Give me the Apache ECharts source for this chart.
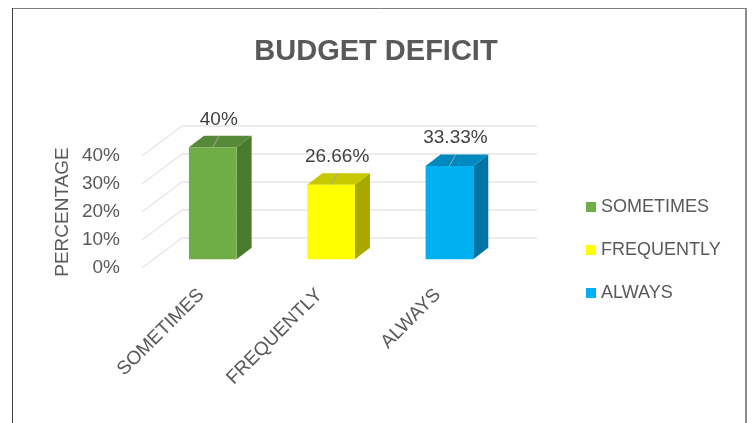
<!DOCTYPE html>
<html lang="en">
<head>
    <meta charset="utf-8">
    <script src="https://cdn.jsdelivr.net/npm/echarts@6/dist/echarts.min.js"></script>
    <style>
        html, body { margin: 0; padding: 0; background: #ffffff; }
    </style>
</head>
<body>
<div id="main" style="width: 752px;height:423px;"></div>
<script type="text/javascript">
    // data
    var categories = ['SOMETIMES', 'FREQUENTLY', 'ALWAYS'];
    var percentages = [40, 26.66, 33.33];
    var yTicks = [0, 10, 20, 30, 40];

    // face colours: front, top, side
    var faceColors = [
        ['#70ad47', '#578a38', '#4a7a2c'],
        ['#ffff00', '#c8c800', '#a8a800'],
        ['#00b0f0', '#0089bf', '#0075a3']
    ];

    var FLOOR_DX = 40, FLOOR_DY = -30;   // depth of the floor / walls
    var BAR_OX = 11.6, BAR_OY = -8.7;    // bar front plane behind the floor edge
    var BAR_DX = 15, BAR_DY = -11.5;     // bar depth

    var myChart = echarts.init(document.getElementById('main'));

    function renderGrid(params, api) {
        var y = api.coord([0, api.value(1)])[1];
        var x0 = params.coordSys.x;
        var xR = x0 + params.coordSys.width;
        var st = { stroke: '#d9d9d9', lineWidth: 1 };
        return {
            type: 'group',
            children: [
                { type: 'line', shape: { x1: x0, y1: y, x2: x0 + FLOOR_DX, y2: y + FLOOR_DY }, style: st },
                { type: 'line', shape: { x1: x0 + FLOOR_DX, y1: y + FLOOR_DY, x2: xR + FLOOR_DX, y2: y + FLOOR_DY }, style: st }
            ]
        };
    }

    function makeBarRenderer(cols) {
        return function (params, api) {
            var cat = api.value(0), v = api.value(1);
            var base = api.coord([cat, 0]);
            var top = api.coord([cat, v]);
            var w = api.size([1, 0])[0] * 0.403;
            var x0 = base[0] - w / 2 + BAR_OX;
            var x1 = x0 + w;
            var yb = base[1] + BAR_OY;
            var yt = top[1] + BAR_OY;
            var cx = x0 + w / 2;
            return {
                type: 'group',
                children: [
                    { type: 'polygon', shape: { points: [[x1, yt], [x1 + BAR_DX, yt + BAR_DY], [x1 + BAR_DX, yb + BAR_DY], [x1, yb]] }, style: { fill: cols[2] } },
                    { type: 'polygon', shape: { points: [[x0, yt], [x1, yt], [x1 + BAR_DX, yt + BAR_DY], [x0 + BAR_DX, yt + BAR_DY]] }, style: { fill: cols[1] } },
                    { type: 'rect', shape: { x: x0, y: yt, width: w, height: yb - yt }, style: { fill: cols[0] } },
                    { type: 'line', shape: { x1: cx, y1: yt, x2: cx + 6, y2: yt - 11 }, style: { stroke: '#a6a6a6', lineWidth: 1 } },
                    { type: 'text', x: cx + 6, y: yt - 28, style: {
                        text: v + '%', fill: '#404040', font: '19px "Liberation Sans", Arial, sans-serif',
                        align: 'center', verticalAlign: 'middle' } }
                ]
            };
        };
    }

    var series = [{
        type: 'custom',
        name: 'grid',
        silent: true,
        z: 1,
        encode: { x: 0, y: 1 },
        data: yTicks.map(function (t) { return [0, t]; }),
        renderItem: renderGrid
    }];
    categories.forEach(function (c, i) {
        series.push({
            type: 'custom',
            name: c,
            z: 2,
            itemStyle: { color: faceColors[i][0] },
            encode: { x: 0, y: 1 },
            data: [[i, percentages[i]]],
            renderItem: makeBarRenderer(faceColors[i])
        });
    });

    var option = {
        backgroundColor: '#ffffff',
        animation: false,
        title: {
            text: 'BUDGET DEFICIT',
            left: 'center',
            top: 32,
            textStyle: { fontFamily: 'Liberation Sans', fontSize: 29, fontWeight: 'bold', color: '#595959' }
        },
        legend: {
            data: categories,
            orient: 'vertical',
            left: 581,
            top: 193,
            itemWidth: 10,
            itemHeight: 10,
            itemGap: 25,
            icon: 'rect',
            textStyle: { fontFamily: 'Liberation Sans', fontSize: 18, color: '#595959' }
        },
        grid: { left: 142, top: 156, width: 355, height: 112 },
        xAxis: {
            type: 'category',
            data: categories,
            axisLine: { show: false },
            axisTick: { show: false },
            axisLabel: { rotate: 45, margin: 24, fontFamily: 'Liberation Sans', fontSize: 19, color: '#595959' }
        },
        yAxis: {
            type: 'value',
            min: 0,
            max: 40,
            interval: 10,
            name: 'PERCENTAGE',
            nameLocation: 'middle',
            nameGap: 70,
            nameTextStyle: { fontFamily: 'Liberation Sans', fontSize: 19, color: '#595959' },
            splitLine: { show: false },
            axisLine: { show: false },
            axisTick: { show: false },
            axisLabel: { formatter: '{value}%', margin: 22, fontFamily: 'Liberation Sans', fontSize: 19, color: '#595959' }
        },
        graphic: [
            { type: 'line', shape: { x1: 12, y1: 8.5, x2: 747, y2: 8.5 }, style: { stroke: '#7f7f7f', lineWidth: 1 } },
            { type: 'line', shape: { x1: 12.5, y1: 8, x2: 12.5, y2: 423 }, style: { stroke: '#404040', lineWidth: 1 } },
            { type: 'rect', shape: { x: 745, y: 8, width: 2, height: 415 }, style: { fill: '#8c8c8c' } }
        ],
        series: series
    };

    myChart.setOption(option);
</script>
</body>
</html>
